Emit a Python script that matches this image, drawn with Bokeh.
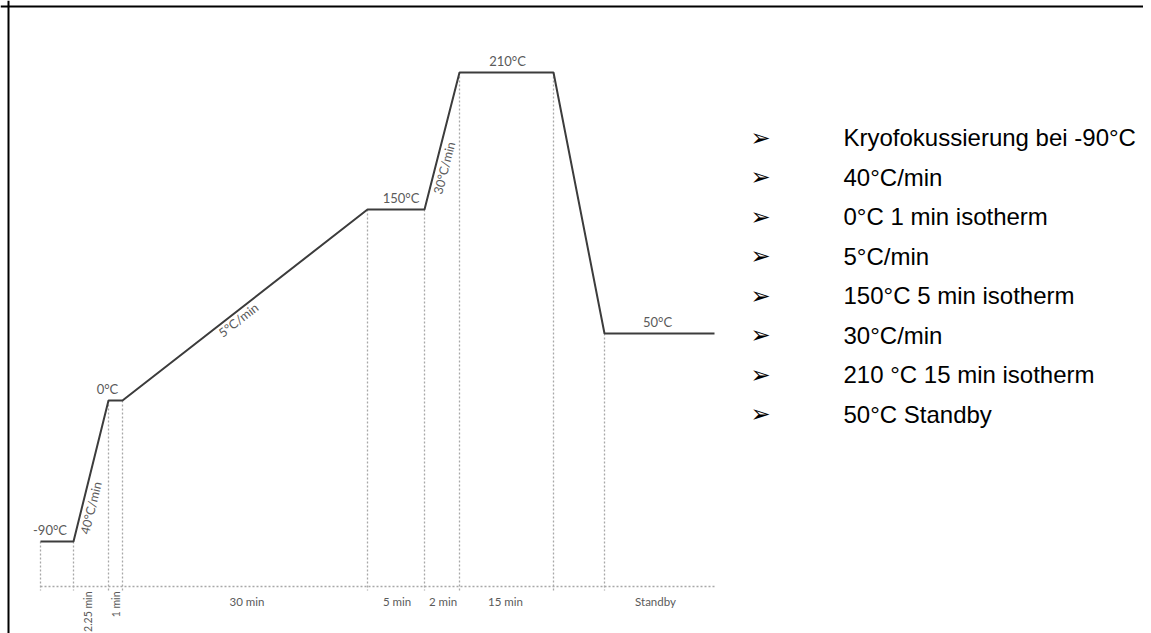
import math
from bokeh.plotting import figure
from bokeh.models import Range1d, Span
from bokeh.core.properties import value
from bokeh.embed import file_html
from bokeh.resources import INLINE

# ---- schematic temperature programme (positions, schematic units) ----
step_pos = [40, 73, 108, 122, 367, 424, 459, 553, 604, 714]      # schematic time position
step_level = [541, 541, 400, 400, 209, 209, 72, 72, 333, 333]   # schematic temperature level (screen-like, down = colder)
baseline_level = 586

temp_labels = ["-90°C", "0°C", "150°C", "210°C", "50°C"]
temp_plateau_index = [0, 2, 4, 6, 8]          # plateau start index in the step arrays
temp_label_dx = [-7, -8, 5, 1, -2]

duration_labels = ["2.25 min", "1 min", "30 min", "5 min", "2 min", "15 min", "Standby"]
duration_segment_index = [1, 2, 3, 4, 5, 6, 8]  # segment starts at this index
duration_rotated = [True, True, False, False, False, False, False]
duration_dx = [-3, 0, 2, 1, 1, -1, -4]

rate_labels = ["40°C/min", "5°C/min", "30°C/min"]
rate_segment_index = [1, 3, 5]

program_steps = [
    "Kryofokussierung bei -90°C",
    "40°C/min",
    "0°C 1 min isotherm",
    "5°C/min",
    "150°C 5 min isotherm",
    "30°C/min",
    "210 °C 15 min isotherm",
    "50°C Standby",
]

W, H = 1143, 633
p = figure(width=W, height=H, output_backend="svg", toolbar_location=None,
           x_range=Range1d(0, W), y_range=Range1d(H, 0),
           x_axis_type=None, y_axis_type=None, min_border=0)
p.grid.visible = False
p.outline_line_color = None
p.background_fill_color = "white"

# frame (top and left edges visible in reference)
p.add_layout(Span(location=6, dimension="width", line_color="black", line_width=2))
p.add_layout(Span(location=8, dimension="height", line_color="black", line_width=2))

LABEL_FONT = value("Lato")
LABEL_COLOR = "#5a5a5a"
DASH_COLOR = "#a8a8a8"

# dashed guides
vx = step_pos[:-1]
vy = step_level[:-1]
p.segment(x0=vx, y0=vy, x1=vx, y1=[baseline_level + 4] * len(vx),
          line_color=DASH_COLOR, line_width=1.3, line_dash="2 2")
p.segment(x0=[step_pos[0]], y0=[baseline_level], x1=[step_pos[-1]], y1=[baseline_level],
          line_color=DASH_COLOR, line_width=1.3, line_dash="2 2")

# profile
p.line(step_pos, step_level, line_color="#3c3c3c", line_width=2)

# temperature labels
tx, ty = [], []
for i, dx in zip(temp_plateau_index, temp_label_dx):
    tx.append((step_pos[i] + step_pos[i + 1]) / 2 + dx)
    ty.append(step_level[i] - 4)
p.text(x=tx, y=ty, text=temp_labels, text_font=LABEL_FONT, text_font_size="13px",
       text_color=LABEL_COLOR, text_align="center", text_baseline="bottom")

# duration labels
hx, hy, ht, rx, ry, rt = [], [], [], [], [], []
for lab, i, rot, dx in zip(duration_labels, duration_segment_index, duration_rotated, duration_dx):
    mx = (step_pos[i] + step_pos[i + 1]) / 2 + dx
    if rot:
        rx.append(mx); ry.append(baseline_level + 5); rt.append(lab)
    else:
        hx.append(mx); hy.append(baseline_level + 15); ht.append(lab)
p.text(x=hx, y=hy, text=ht, text_font=LABEL_FONT, text_font_size="11.5px",
       text_color=LABEL_COLOR, text_align="center", text_baseline="middle")
p.text(x=rx, y=ry, text=rt, text_font=LABEL_FONT, text_font_size="10.5px",
       text_color=LABEL_COLOR, text_align="right", text_baseline="middle", angle=math.pi / 2)

# rate labels along ramps (placed just below/right of the ramp)
for lab, i in zip(rate_labels, rate_segment_index):
    x0, y0, x1, y1 = step_pos[i], step_level[i], step_pos[i + 1], step_level[i + 1]
    ang = math.atan2(y0 - y1, x1 - x0)
    mx, my = (x0 + x1) / 2, (y0 + y1) / 2
    off = 9
    if i == 3:
        cx = mx + off * math.sin(ang) - 12
        cy = my + off * math.cos(ang) + 8
    else:
        cy = my + (37 if i == 1 else 27)
        cx = x0 + (y0 - cy) * (x1 - x0) / (y0 - y1) + off / math.sin(ang)
    p.text(x=[cx], y=[cy], text=[lab], text_font=LABEL_FONT, text_font_size="12.5px",
           text_color=LABEL_COLOR, text_align="center", text_baseline="middle", angle=ang)

# programme list on the right
row_y = [137 + 39.5 * k for k in range(len(program_steps))]
p.text(x=[760] * len(program_steps), y=row_y, text=["➢"] * len(program_steps),
       text_font=value("DejaVu Sans"), text_font_size="24px", text_color="black",
       text_align="center", text_baseline="middle")
p.text(x=[843] * len(program_steps), y=row_y, text=program_steps,
       text_font=value("Liberation Sans"), text_font_size="24px", text_color="black",
       text_align="left", text_baseline="middle")

open("out.html", "w").write(file_html(p, INLINE))
